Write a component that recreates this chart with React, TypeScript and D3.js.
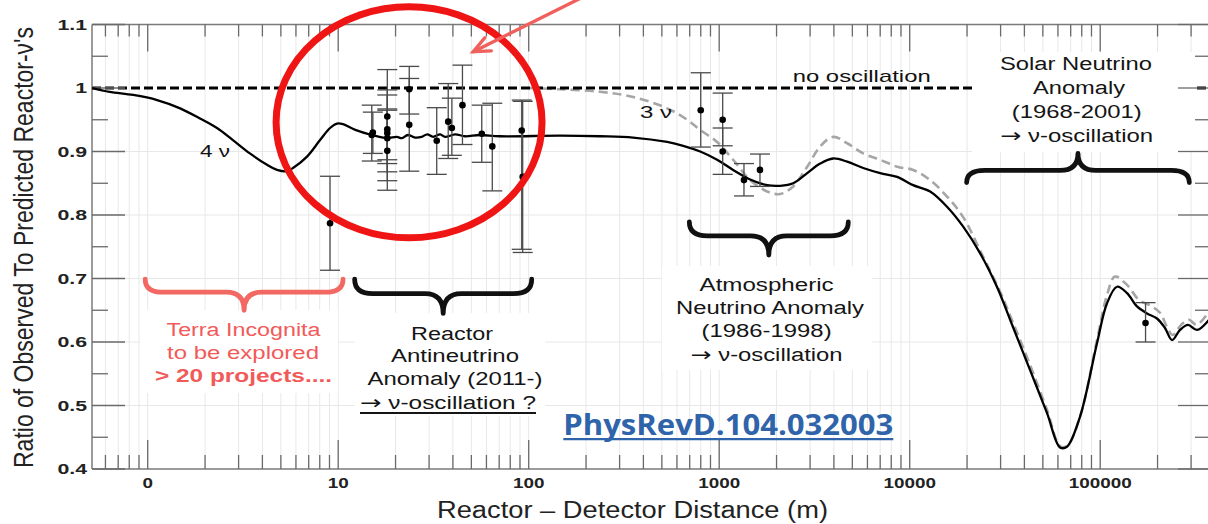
import React from 'react';
import * as d3 from 'd3';

// ---------------- data ----------------
const xTickValues = [1, 10, 100, 1000, 10000, 100000];
const xTickLabels = ['0', '10', '100', '1000', '10000', '100000'];
const yTickValues = [0.4, 0.5, 0.6, 0.7, 0.8, 0.9, 1.0, 1.1];
const yTickLabels = ['0.4', '0.5', '0.6', '0.7', '0.8', '0.9', '1', '1.1'];
const yMinorValues = [0.45, 0.55, 0.65, 0.75, 0.85, 0.95, 1.05];
const yGridValues = [0.5, 0.6, 0.7, 0.8, 0.9];
const xDomain: [number, number] = [0.51, 372500];
const yDomain: [number, number] = [0.4, 1.1];

const noOscillation: [number, number][] = [[0.51, 1.0], [372500, 1.0]];

// 4-neutrino (solid) curve: [distance m, ratio]
const fourNuCurve: [number, number][] = [
  [0.51, 1.0], [0.63, 0.994], [0.84, 0.989], [1.12, 0.981], [1.48, 0.968], [1.88, 0.952],
  [2.31, 0.937], [2.8, 0.918], [3.44, 0.897], [4.23, 0.879], [4.77, 0.871], [5.39, 0.869],
  [5.79, 0.874], [6.86, 0.892], [8.03, 0.918], [9.06, 0.937], [9.86, 0.944], [10.6, 0.943],
  [12.3, 0.934], [15.0, 0.926], [18.0, 0.921], [20.3, 0.923], [21.6, 0.921], [23.2, 0.926],
  [25.3, 0.922], [27.4, 0.923], [29.3, 0.927], [31.5, 0.923], [34.3, 0.927], [36.4, 0.923],
  [41.1, 0.927], [46.3, 0.924], [55.5, 0.926], [70.6, 0.924], [146, 0.925], [237, 0.924],
  [353, 0.922], [533, 0.915], [647, 0.909], [795, 0.9], [975, 0.887], [1183, 0.871],
  [1454, 0.856], [1786, 0.847], [2089, 0.846], [2445, 0.85], [2897, 0.866], [3388, 0.881],
  [3963, 0.889], [4696, 0.884], [5699, 0.874], [6998, 0.866], [8596, 0.86], [10420, 0.847],
  [12800, 0.837], [15700, 0.813], [19050, 0.782], [23400, 0.74], [28700, 0.687], [34800, 0.624],
  [42800, 0.556], [52600, 0.488], [61500, 0.434], [66900, 0.435], [78300, 0.482], [96200, 0.598],
  [108600, 0.661], [122500, 0.687], [138300, 0.677], [156000, 0.656], [176200, 0.645],
  [198700, 0.637], [218800, 0.622], [238300, 0.603], [262400, 0.619], [289000, 0.627],
  [322300, 0.619], [372500, 0.635],
];

// 3-neutrino (grey dashed) curve
const threeNuCurve: [number, number][] = [
  [100, 1.0], [146, 0.998], [237, 0.994], [353, 0.986], [533, 0.968], [679, 0.95], [795, 0.934],
  [975, 0.915], [1183, 0.887], [1454, 0.855], [1786, 0.837], [2089, 0.833], [2445, 0.845],
  [2897, 0.876], [3388, 0.908], [3963, 0.923], [4696, 0.913], [5699, 0.897], [6998, 0.887],
  [8596, 0.876], [10420, 0.871], [12800, 0.855], [15700, 0.829], [19050, 0.797], [24300, 0.734],
  [29850, 0.679], [34800, 0.631], [42800, 0.564], [52600, 0.493], [61500, 0.436], [66900, 0.436],
  [78300, 0.482], [96200, 0.603], [108600, 0.674], [119600, 0.703], [138300, 0.69],
  [160000, 0.666], [182000, 0.658], [206000, 0.646], [224000, 0.624], [240000, 0.611],
  [266000, 0.627], [292000, 0.635], [321000, 0.627], [372500, 0.648],
];

// measurements: [distance m, ratio, upper, lower]
const reactorPoints: [number, number, number, number][] = [
  [9.06, 0.787, 0.861, 0.713],
  [15.0, 0.926, 0.973, 0.885],
  [15.2, 0.93, 0.962, 0.897],
  [18.1, 0.955, 1.029, 0.881],
  [18.1, 0.935, 0.997, 0.868],
  [18.1, 0.929, 0.989, 0.854],
  [18.1, 0.921, 0.967, 0.887],
  [18.1, 0.901, 0.965, 0.839],
  [23.6, 0.998, 1.034, 0.959],
  [23.6, 0.942, 1.015, 0.869],
  [32.9, 0.917, 0.969, 0.864],
  [37.8, 0.947, 1.007, 0.889],
  [39.5, 0.937, 0.984, 0.894],
  [44.9, 0.973, 1.036, 0.911],
  [56.7, 0.928, 0.973, 0.883],
  [64.4, 0.908, 0.976, 0.838],
  [91.9, 0.933, 0.981, 0.746],
  [93.0, 0.86, 0.979, 0.741],
];
const atmosphericPoints: [number, number, number, number][] = [
  [800, 0.965, 1.024, 0.907],
  [1043, 0.95, 0.992, 0.909],
  [1043, 0.9, 0.937, 0.864],
  [1349, 0.855, 0.881, 0.83],
  [1637, 0.871, 0.896, 0.845],
];
const kamlandPoints: [number, number, number, number][] = [
  [173000, 0.63, 0.662, 0.6],
];

// annotation spans (data coordinates)
const braces = [
  { from: 0.97, to: 10.6, end: 0.699, tip: 0.65, color: '#f26862' },
  { from: 12.2, to: 103.7, end: 0.699, tip: 0.645, color: '#111' },
  { from: 697, to: 4760, end: 0.789, tip: 0.737, color: '#111' },
  { from: 19900, to: 293600, end: 0.851, tip: 0.897, color: '#111' },
];
const ellipseSpan = { from: 4.72, to: 117.5, top: 1.128, bottom: 0.764 };
const arrowSpan = { tail: [188, 1.1417], tip: [51.2, 1.0572] };

// ---------------- layout ----------------
const W = 1208, H = 524;
const L = 92, R = 1209, T = 24.5, B = 469;
const FONT = "'Liberation Sans', Arial, Helvetica, sans-serif";
const ARROW_FONT = "'DejaVu Sans', sans-serif";

function bracePath(x1: number, x2: number, yEnd: number, yTip: number) {
  const xm = (x1 + x2) / 2;
  const yF = yEnd + (yTip - yEnd) * 0.42;
  const r = 18;
  return `M${x1},${yEnd} Q${x1},${yF} ${x1 + r},${yF} L${xm - r},${yF} Q${xm},${yF} ${xm},${yTip} ` +
    `Q${xm},${yF} ${xm + r},${yF} L${x2 - r},${yF} Q${x2},${yF} ${x2},${yEnd}`;
}

type TL = { t: string; x: number; y: number; len: number; bold?: boolean; arrow?: boolean };

const terraLines: TL[] = [
  { t: 'Terra Incognita', x: 243.5, y: 336, len: 154 },
  { t: 'to be explored', x: 243, y: 358.5, len: 152 },
  { t: '> 20 projects....', x: 243.5, y: 381.5, len: 177, bold: true },
];
const reactorLines: TL[] = [
  { t: 'Reactor', x: 452, y: 339.5, len: 82 },
  { t: 'Antineutrino', x: 455, y: 362, len: 128 },
  { t: 'Anomaly (2011-)', x: 455, y: 385, len: 175 },
  { t: ' \u03bd-oscillation ?', x: 448, y: 408.5, len: 176, arrow: true },
];
const atmosLines: TL[] = [
  { t: 'Atmospheric', x: 766.6, y: 290.5, len: 134 },
  { t: 'Neutrino Anomaly', x: 770, y: 314, len: 188 },
  { t: '(1986-1998)', x: 766.6, y: 337, len: 130 },
  { t: ' \u03bd-oscillation', x: 766.6, y: 360.5, len: 152, arrow: true },
];
const solarLines: TL[] = [
  { t: 'Solar Neutrino', x: 1076, y: 70, len: 152 },
  { t: 'Anomaly', x: 1079, y: 94, len: 92 },
  { t: '(1968-2001)', x: 1076.7, y: 117.5, len: 130 },
  { t: ' \u03bd-oscillation', x: 1076.7, y: 141.5, len: 153, arrow: true },
];

export default function App() {
  const x = d3.scaleLog().domain(xDomain).range([L, R]);
  const y = d3.scaleLinear().domain(yDomain).range([B, T]);

  const gridX: { v: number; major: boolean }[] = [];
  for (let k = -1; k <= 5; k++) {
    for (let m = 1; m <= 9; m++) {
      const v = m * Math.pow(10, k);
      if (v >= xDomain[0] && v <= xDomain[1]) gridX.push({ v, major: m === 1 });
    }
  }

  const line = d3.line<[number, number]>()
    .x(d => x(d[0]))
    .y(d => y(d[1]))
    .curve(d3.curveCatmullRom.alpha(0.5));

  const allPoints = [...reactorPoints, ...atmosphericPoints, ...kamlandPoints];

  const ex1 = x(ellipseSpan.from), ex2 = x(ellipseSpan.to);
  const ey1 = y(ellipseSpan.top), ey2 = y(ellipseSpan.bottom);

  const ax1 = x(arrowSpan.tail[0]), ay1 = y(arrowSpan.tail[1]);
  const ax2 = x(arrowSpan.tip[0]), ay2 = y(arrowSpan.tip[1]);
  const ang = Math.atan2(ay1 - ay2, ax1 - ax2);
  const barb = 18, spread = (24 * Math.PI) / 180;
  const b1 = [ax2 + barb * Math.cos(ang - spread), ay2 + barb * Math.sin(ang - spread)];
  const b2 = [ax2 + barb * Math.cos(ang + spread), ay2 + barb * Math.sin(ang + spread)];

  const renderLines = (lines: TL[], color: string) =>
    lines.map((l, i) => (
      <text key={i} x={l.x} y={l.y} textAnchor="middle" fontFamily={FONT} fontSize={18}
        fontWeight={l.bold ? 'bold' : 'normal'} fill={color}
        textLength={l.len} lengthAdjust="spacingAndGlyphs">
        {l.arrow ? <tspan fontFamily={ARROW_FONT} fontSize={19}>{'\u2192'}</tspan> : null}
        {l.t}
      </text>
    ));

  return (
    <svg width={W} height={H} style={{ position: 'absolute', left: 0, top: 0, display: 'block' }}>
      <defs>
        <clipPath id="plot">
          <rect x={L} y={T} width={R - L} height={B - T} />
        </clipPath>
      </defs>
      <rect x={0} y={0} width={W} height={H} fill="#fff" />

      {/* grid */}
      <g stroke="#e8e8e8" strokeWidth={1}>
        {gridX.map((g, i) => (
          <line key={i} x1={x(g.v)} x2={x(g.v)} y1={T} y2={B} />
        ))}
        {yGridValues.map((v, i) => (
          <line key={'h' + i} x1={L} x2={R} y1={y(v)} y2={y(v)} />
        ))}
      </g>

      {/* 3-nu curve below the no-oscillation line */}
      <path d={line(threeNuCurve) || ''} fill="none" stroke="#a6a6a6" strokeWidth={2.6}
        strokeDasharray="9,5" clipPath="url(#plot)" />

      {/* no oscillation line */}
      <path d={line(noOscillation) || ''} fill="none" stroke="#000" strokeWidth={3}
        strokeDasharray="9,4" clipPath="url(#plot)" />

      {/* white label boxes */}
      <g fill="#fff">
        <rect x={140} y={310} width={198} height={83} />
        <rect x={355} y={313} width={190} height={103} />
        <rect x={662} y={266} width={210} height={104} />
        <rect x={972} y={52} width={223} height={100} />
      </g>

      {/* axes frame */}
      <g stroke="#7a7a7a" strokeWidth={1.5} fill="none">
        <line x1={L} x2={R} y1={T} y2={T} />
        <line x1={L} x2={R} y1={B} y2={B} />
        <line x1={L} x2={L} y1={T} y2={B} />
        <line x1={R} x2={R} y1={T} y2={B} />
      </g>

      {/* ticks */}
      <g stroke="#6a6a6a" strokeWidth={1.3}>
        {gridX.map((g, i) => (
          <g key={i}>
            <line x1={x(g.v)} x2={x(g.v)} y1={B} y2={B - (g.major ? 29 : 14)} />
            <line x1={x(g.v)} x2={x(g.v)} y1={T} y2={T + (g.major ? 27 : 12)} />
          </g>
        ))}
        {yTickValues.map((v, i) => (
          <g key={'y' + i}>
            <line x1={L} x2={L + 33} y1={y(v)} y2={y(v)} />
            <line x1={R} x2={R - 31} y1={y(v)} y2={y(v)} />
          </g>
        ))}
        {yMinorValues.map((v, i) => (
          <g key={'ym' + i}>
            <line x1={L} x2={L + 16} y1={y(v)} y2={y(v)} />
            <line x1={R} x2={R - 14} y1={y(v)} y2={y(v)} />
          </g>
        ))}
      </g>

      {/* tick labels */}
      {xTickValues.map((v, i) => (
        <text key={'xl' + i} transform={`translate(${x(v)},488) scale(1.3,1)`} textAnchor="middle"
          fontFamily={FONT} fontSize={14.5} fontWeight="bold" fill="#222">{xTickLabels[i]}</text>
      ))}
      {yTickValues.map((v, i) => (
        <text key={'yl' + i} transform={`translate(87,${y(v) + 5}) scale(1.42,1)`} textAnchor="end"
          fontFamily={FONT} fontSize={15} fontWeight="bold" fill="#222">{yTickLabels[i]}</text>
      ))}

      {/* axis titles */}
      <text x={632.5} y={518.3} textAnchor="middle" fontFamily={FONT} fontSize={23} fill="#222"
        textLength={391} lengthAdjust="spacingAndGlyphs">Reactor – Detector Distance (m)</text>
      <text transform="translate(33,247.5) rotate(-90) scale(1,1.2)" textAnchor="middle"
        fontFamily={FONT} fontSize={23} fill="#222" textLength={441} lengthAdjust="spacingAndGlyphs">
        Ratio of Observed To Predicted Reactor-ν's
      </text>

      {/* 4-nu curve */}
      <path d={line(fourNuCurve) || ''} fill="none" stroke="#000" strokeWidth={2.3}
        clipPath="url(#plot)" />

      {/* data points with error bars */}
      <g stroke="#4a4a4a" strokeWidth={1.3}>
        {allPoints.map((p, i) => {
          const px = x(p[0]);
          return (
            <g key={i}>
              <line x1={px} x2={px} y1={y(p[2])} y2={y(p[3])} />
              <line x1={px - 10} x2={px + 10} y1={y(p[2])} y2={y(p[2])} />
              <line x1={px - 10} x2={px + 10} y1={y(p[3])} y2={y(p[3])} />
            </g>
          );
        })}
      </g>
      <g fill="#000">
        {allPoints.map((p, i) => (
          <circle key={i} cx={x(p[0])} cy={y(p[1])} r={3.3} />
        ))}
      </g>

      {/* curve labels */}
      <text x={792.7} y={81.7} fontFamily={FONT} fontSize={17} fill="#111" textLength={138}
        lengthAdjust="spacingAndGlyphs">no oscillation</text>
      <text x={200} y={156.7} fontFamily={FONT} fontSize={17} fill="#111" textLength={30}
        lengthAdjust="spacingAndGlyphs">4 ν</text>
      <text x={640} y={118.3} fontFamily={FONT} fontSize={17} fill="#111" textLength={32}
        lengthAdjust="spacingAndGlyphs">3 ν</text>

      {/* braces */}
      {braces.map((b, i) => (
        <path key={i} d={bracePath(x(b.from), x(b.to), y(b.end), y(b.tip))} fill="none"
          stroke={b.color} strokeWidth={4.8} strokeLinecap="round" strokeLinejoin="round" />
      ))}

      {/* annotation texts */}
      {renderLines(terraLines, '#f25a5a')}
      {renderLines(reactorLines, '#151515')}
      <line x1={360} x2={536} y1={413} y2={413} stroke="#151515" strokeWidth={1.8} />
      {renderLines(atmosLines, '#151515')}
      {renderLines(solarLines, '#151515')}

      {/* reference link */}
      <text x={563.3} y={435} fontFamily="'Open Sans', 'Noto Sans', sans-serif" fontSize={28}
        fontWeight="bold" fill="#2f64aa" textLength={330} lengthAdjust="spacingAndGlyphs">
        PhysRevD.104.032003
      </text>
      <line x1={563.3} x2={893.3} y1={439.2} y2={439.2} stroke="#2f64aa" strokeWidth={2.2} />

      {/* red ellipse + arrow */}
      <ellipse cx={(ex1 + ex2) / 2} cy={(ey1 + ey2) / 2} rx={(ex2 - ex1) / 2} ry={(ey2 - ey1) / 2}
        fill="none" stroke="#f01515" strokeWidth={7} />
      <g stroke="#f0605c" strokeWidth={3.4} strokeLinecap="round" fill="none">
        <line x1={ax1} y1={ay1} x2={ax2} y2={ay2} />
        <polyline points={`${b1[0]},${b1[1]} ${ax2},${ay2} ${b2[0]},${b2[1]}`} />
      </g>
    </svg>
  );
}
